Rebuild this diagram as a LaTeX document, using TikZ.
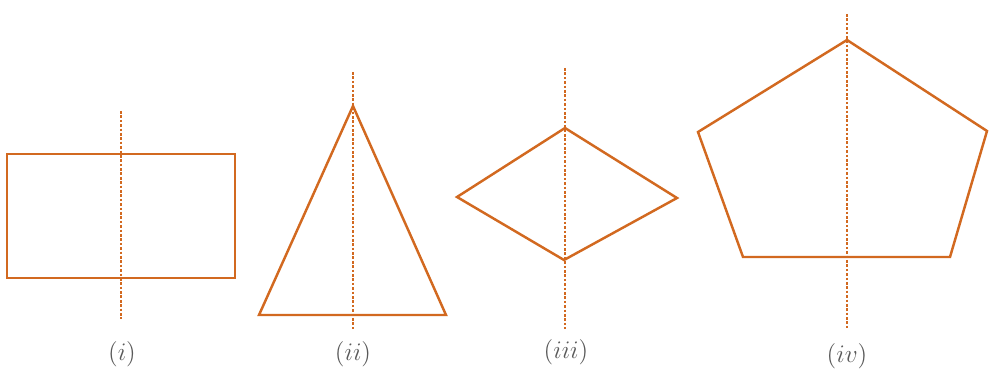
\documentclass[tikz,border=0pt]{standalone}
\usepackage{xcolor}
\usepackage{tikz}
\usetikzlibrary{positioning,calc}
\definecolor{figorange}{RGB}{210,105,32}
\tikzset{
  outline/.style={draw=figorange, line width=1.4pt, line join=miter},
  axisline/.style={draw=figorange, line width=0.8pt, dash pattern=on 1.5pt off 1pt},
  caption/.style={font=\Large, text=black!65}
}

\begin{document}
\begin{tikzpicture}[x=0.02cm, y=-0.02cm]
  \useasboundingbox (0,0) rectangle (990,375);

  % (i) rectangle
  \coordinate (rA) at (7,154);
  \coordinate (rB) at (235,278);
  \coordinate (rTop) at (121,111);
  \coordinate (rBot) at (121,319);
  \draw[outline] (rA) rectangle (rB);
  \draw[axisline] (rTop) -- (rBot);
  \node[caption] (capi) at (122,354) {$(i)$};

  % (ii) triangle
  \coordinate (tApex) at (353,106);
  \coordinate (tLeft) at (259,315);
  \coordinate (tRight) at (446,315);
  \coordinate (tTop) at (353,72);
  \coordinate (tBot) at (353,331);
  \draw[outline] (tApex) -- (tRight) -- (tLeft) -- cycle;
  \draw[axisline] (tTop) -- (tBot);
  \node[caption] (capii) at (353,354) {$(ii)$};

  % (iii) rhombus
  \coordinate (hTop) at (565,128);
  \coordinate (hLeft) at (457,197);
  \coordinate (hRight) at (677,198);
  \coordinate (hBot) at (564,260);
  \coordinate (hUp) at (565,68);
  \coordinate (hDown) at (565,329);
  \draw[outline] (hTop) -- (hRight) -- (hBot) -- (hLeft) -- cycle;
  \draw[axisline] (hUp) -- (hDown);
  \node[caption] (capiii) at (566,352) {$(iii)$};

  % (iv) pentagon
  \coordinate (pTop) at (847,40);
  \coordinate (pLeft) at (698,132);
  \coordinate (pRight) at (987,131);
  \coordinate (pBL) at (743,257);
  \coordinate (pBR) at (950,257);
  \coordinate (pUp) at (847,14);
  \coordinate (pDown) at (847,328);
  \draw[outline] (pTop) -- (pRight) -- (pBR) -- (pBL) -- (pLeft) -- cycle;
  \draw[axisline] (pUp) -- (pDown);
  \node[caption] (capiv) at (847,356) {$(iv)$};
\end{tikzpicture}
\end{document}
